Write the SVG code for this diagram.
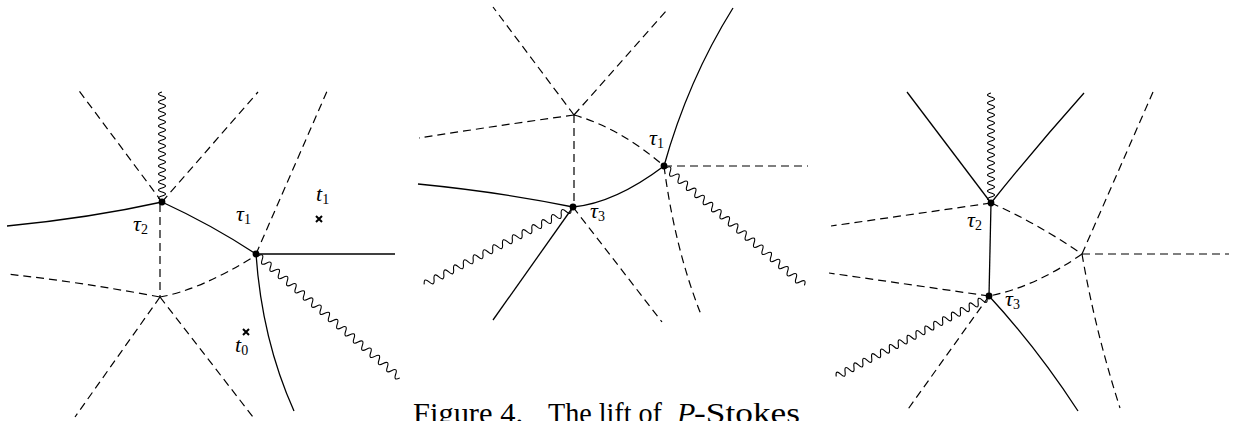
<svg xmlns="http://www.w3.org/2000/svg" width="1235" height="421" viewBox="0 0 1235 421">
<style>
.s{stroke:#000;stroke-width:1.3;fill:none}
.d{stroke:#000;stroke-width:1.2;fill:none;stroke-dasharray:8 5}
.w{stroke:#000;stroke-width:1.1;fill:none}
.lab{font-family:"Liberation Serif",serif;font-style:italic;font-size:22px;fill:#000}
.sub{font-family:"Liberation Serif",serif;font-style:normal;font-size:14px;fill:#000}
.cap{font-family:"Liberation Serif",serif;font-size:30px;fill:#000}
.x{stroke:#000;stroke-width:2;fill:none}
</style>
<rect width="1235" height="421" fill="#fff"/>
<g id="connectors">
<path class="s" d="M7,226 Q90,218 162,202"/>
<path class="s" d="M162,202 Q212,225 256,254"/>
<path class="s" d="M256,254 H395"/>
<path class="s" d="M256,254 Q262,340 294,411"/>
<path class="d" d="M162,202 L77,88"/>
<path class="d" d="M162,202 L258,92"/>
<path class="d" d="M160,204 L160,297"/>
<path class="d" d="M160,297 Q200,290 255,256"/>
<path class="d" d="M160,297 Q80,282 7,274"/>
<path class="d" d="M160,297 L75,417"/>
<path class="d" d="M160,297 L253,417"/>
<path class="d" d="M256,254 L328,89"/>
<path class="w" transform="translate(162,200) rotate(-90)" d="M0,0 q2,-7 4,0 t4,0 t4,0 t4,0 t4,0 t4,0 t4,0 t4,0 t4,0 t4,0 t4,0 t4,0 t4,0 t4,0 t4,0 t4,0 t4,0 t4,0 t4,0 t4,0 t4,0 t4,0 t4,0 t4,0 t4,0 t4,0 t4,0"/>
<path class="w" transform="translate(258,256) rotate(40.67)" d="M0,0 q2.75,-7 5.5,0 t5.5,0 t5.5,0 t5.5,0 t5.5,0 t5.5,0 t5.5,0 t5.5,0 t5.5,0 t5.5,0 t5.5,0 t5.5,0 t5.5,0 t5.5,0 t5.5,0 t5.5,0 t5.5,0 t5.5,0 t5.5,0 t5.5,0 t5.5,0 t5.5,0 t5.5,0 t5.5,0 t5.5,0 t5.5,0 t5.5,0 t5.5,0 t5.5,0 t5.5,0 t5.5,0 t5.5,0 t5.5,0 t5.5,0"/>
<path class="d" d="M574,115 L493,7"/>
<path class="d" d="M574,115 L667,10"/>
<path class="d" d="M574,115 Q495,126 419,138"/>
<path class="d" d="M574,115 L574,207"/>
<path class="d" d="M574,115 Q620,128 664,166"/>
<path class="s" d="M664,166 Q688,80 733,8"/>
<path class="d" d="M664,166 H808"/>
<path class="d" d="M664,166 Q675,250 702,317"/>
<path class="s" d="M573,207 Q615,203 664,166"/>
<path class="s" d="M573,207 Q500,192 418,184"/>
<path class="s" d="M573,207 L493,320"/>
<path class="d" d="M573,207 L662,322"/>
<path class="w" transform="translate(666,168) rotate(40.3)" d="M0,0 q2.75,-7 5.5,0 t5.5,0 t5.5,0 t5.5,0 t5.5,0 t5.5,0 t5.5,0 t5.5,0 t5.5,0 t5.5,0 t5.5,0 t5.5,0 t5.5,0 t5.5,0 t5.5,0 t5.5,0 t5.5,0 t5.5,0 t5.5,0 t5.5,0 t5.5,0 t5.5,0 t5.5,0 t5.5,0 t5.5,0 t5.5,0 t5.5,0 t5.5,0 t5.5,0 t5.5,0 t5.5,0 t5.5,0 t5.5,0"/>
<path class="w" transform="translate(571,209) rotate(152.8)" d="M0,0 q2.75,-7 5.5,0 t5.5,0 t5.5,0 t5.5,0 t5.5,0 t5.5,0 t5.5,0 t5.5,0 t5.5,0 t5.5,0 t5.5,0 t5.5,0 t5.5,0 t5.5,0 t5.5,0 t5.5,0 t5.5,0 t5.5,0 t5.5,0 t5.5,0 t5.5,0 t5.5,0 t5.5,0 t5.5,0 t5.5,0 t5.5,0 t5.5,0 t5.5,0 t5.5,0 t5.5,0"/>
<path class="s" d="M991,203 L907,92"/>
<path class="s" d="M991,203 Q1035,148 1084,93"/>
<path class="d" d="M991,203 L831,226"/>
<path class="d" d="M991,203 Q1035,222 1082,254"/>
<path class="s" d="M991,203 L989,296"/>
<path class="d" d="M1082,254 L1153,92"/>
<path class="d" d="M1082,254 H1229"/>
<path class="d" d="M1082,254 Q1095,330 1120,408"/>
<path class="d" d="M1082,254 Q1035,287 989,296"/>
<path class="d" d="M989,296 L829,273"/>
<path class="d" d="M989,296 L906,412"/>
<path class="s" d="M989,296 Q1037,348 1078,411"/>
<path class="w" transform="translate(991,201) rotate(-90)" d="M0,0 q2,-7 4,0 t4,0 t4,0 t4,0 t4,0 t4,0 t4,0 t4,0 t4,0 t4,0 t4,0 t4,0 t4,0 t4,0 t4,0 t4,0 t4,0 t4,0 t4,0 t4,0 t4,0 t4,0 t4,0 t4,0 t4,0 t4,0 t4,0"/>
<path class="w" transform="translate(987,298) rotate(152.5)" d="M0,0 q2.5,-7 5,0 t5,0 t5,0 t5,0 t5,0 t5,0 t5,0 t5,0 t5,0 t5,0 t5,0 t5,0 t5,0 t5,0 t5,0 t5,0 t5,0 t5,0 t5,0 t5,0 t5,0 t5,0 t5,0 t5,0 t5,0 t5,0 t5,0 t5,0 t5,0 t5,0 t5,0 t5,0 t5,0 t5,0"/>
</g>
<g id="p1-tau2"><circle cx="162" cy="202" r="3.4"/><text class="lab" x="133" y="231">τ<tspan class="sub" dy="3">2</tspan></text></g>
<g id="p1-tau1"><circle cx="256" cy="254" r="3.4"/><text class="lab" x="236" y="221">τ<tspan class="sub" dy="3">1</tspan></text></g>
<g id="p1-t1"><path class="x" d="M316,216 L322,222 M322,216 L316,222"/><text class="lab" x="316" y="201">t<tspan class="sub" dy="3">1</tspan></text></g>
<g id="p1-t0"><path class="x" d="M243,329 L249,335 M249,329 L243,335"/><text class="lab" x="235" y="352">t<tspan class="sub" dy="3">0</tspan></text></g>
<g id="p2-tau1"><circle cx="664" cy="166" r="3.4"/><text class="lab" x="649" y="145">τ<tspan class="sub" dy="3">1</tspan></text></g>
<g id="p2-tau3"><circle cx="573" cy="207" r="3.4"/><text class="lab" x="590" y="218">τ<tspan class="sub" dy="3">3</tspan></text></g>
<g id="p3-tau2"><circle cx="991" cy="203" r="3.4"/><text class="lab" x="967" y="227">τ<tspan class="sub" dy="3">2</tspan></text></g>
<g id="p3-tau3"><circle cx="989" cy="296" r="3.4"/><text class="lab" x="1005" y="306">τ<tspan class="sub" dy="3">3</tspan></text></g>
<g id="caption">
<text class="cap" x="413" y="423" textLength="110" lengthAdjust="spacingAndGlyphs">Figure 4.</text>
<text class="cap" x="548" y="423" textLength="114" lengthAdjust="spacingAndGlyphs">The lift of</text>
<text class="cap" x="677" y="423" font-style="italic">P</text>
<text class="cap" x="694" y="423" textLength="106" lengthAdjust="spacingAndGlyphs">-Stokes</text>
</g>
</svg>
